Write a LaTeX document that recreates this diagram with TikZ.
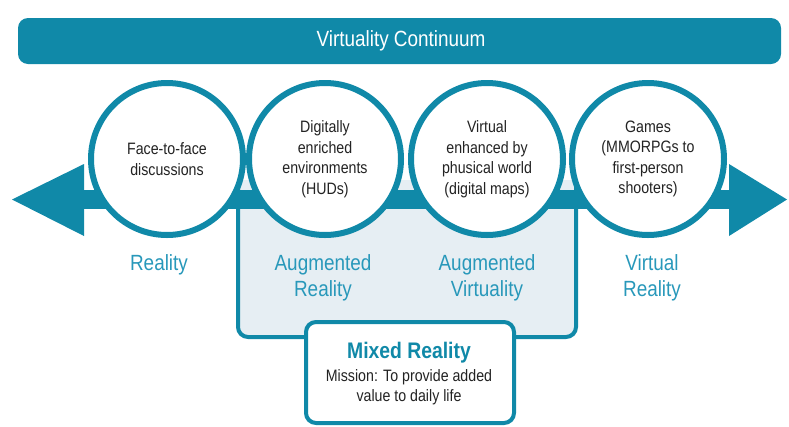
\documentclass[tikz,border=0pt]{standalone}
\usepackage{fontspec}
\setmainfont{Liberation Sans}[FakeStretch=0.86]
\definecolor{teal1}{RGB}{16,137,168}
\definecolor{teallbl}{RGB}{40,152,186}
\definecolor{boxfill}{RGB}{230,238,243}
\definecolor{txt}{RGB}{35,35,35}
\tikzset{
  circ/.style={circle, draw=teal1, line width=6pt, fill=white, minimum size=152pt, inner sep=0pt, align=center, text=txt, font=\fontsize{16.5}{20.5}\selectfont},
  lbl/.style={text=teallbl, align=center, font=\fontsize{22}{26}\selectfont},
}
\begin{document}
\begin{tikzpicture}[x=1pt,y=-1pt]
\useasboundingbox (0,0) rectangle (789,426);
% banner
\fill[teal1, rounded corners=10pt] (18,18) rectangle (781,64);
\node[text=white, font=\fontsize{22}{24}\selectfont] (title) at (401,41) {Virtuality Continuum};
% mixed region box
\draw[fill=boxfill, draw=teal1, line width=4pt, rounded corners=10pt] (238,180) -- (238,337) -- (576,337) -- (576,180);
% arrow
\fill[teal1] (80,190) rectangle (732,209);
\fill[teal1] (12,199.5) -- (84,164) -- (84,236) -- cycle;
\fill[teal1] (787,199.5) -- (729,164) -- (729,236) -- cycle;
% circles
\node[circ] (c1) at (167,159) {Face-to-face\\discussions};
\node[circ] (c2) at (325,159) {Digitally\\enriched\\environments\\(HUDs)};
\node[circ] (c3) at (487,159) {Virtual\\enhanced by\\phusical world\\(digital maps)};
\node[circ] (c4) at (648,159) {Games\\(MMORPGs to\\first-person\\shooters)};
% labels
\node[lbl] (l1) at (159,265) {Reality};
\node[lbl] (l2) at (323,278) {Augmented\\Reality};
\node[lbl] (l3) at (487,278) {Augmented\\Virtuality};
\node[lbl] (l4) at (652,278) {Virtual\\Reality};
% mixed reality box
\draw[fill=white, draw=teal1, line width=4pt, rounded corners=10pt] (306,322) rectangle (514,423);
\node[text=teal1, font=\bfseries\fontsize{22.5}{24}\selectfont] (mr) at (409,353) {Mixed Reality};
\node[text=txt, align=center, font=\fontsize{16.5}{20}\selectfont] (mission) at (409,387) {Mission: To provide added\\value to daily life};
\end{tikzpicture}
\end{document}
